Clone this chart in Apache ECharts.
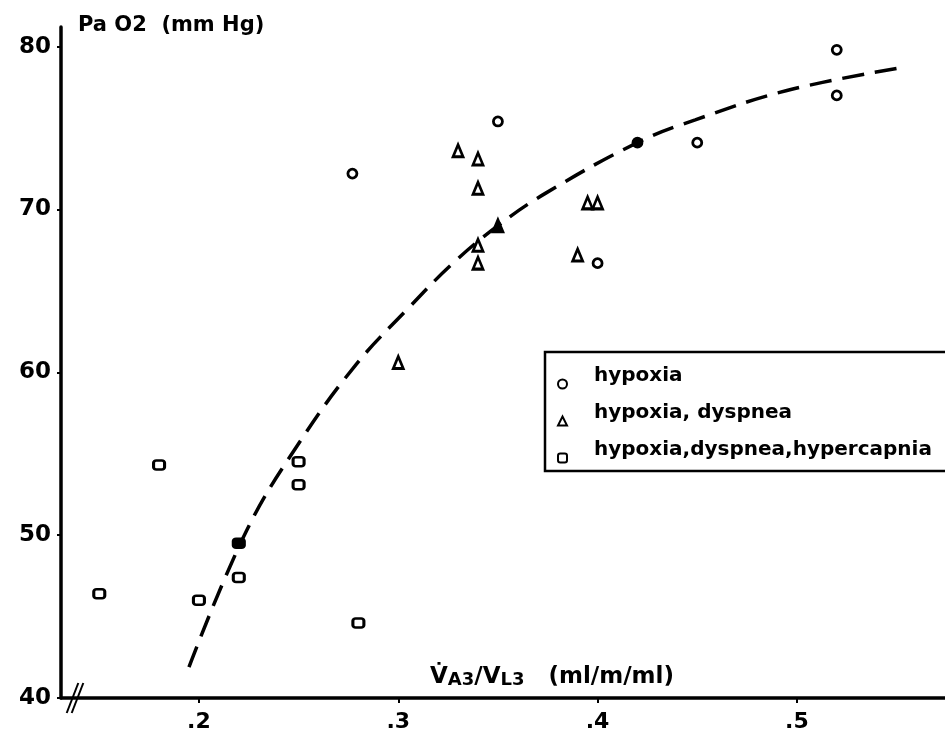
<!DOCTYPE html>
<html>
<head>
<meta charset="utf-8">
<script src="https://cdn.jsdelivr.net/npm/echarts@6/dist/echarts.min.js"></script>
<style>html,body{margin:0;padding:0;background:#fff}#c{width:945px;height:734px}</style>
</head>
<body>
<div id="c"></div>
<script>
// ---- data ----
var hypoxiaX = [0.277, 0.35, 0.40, 0.42, 0.45, 0.52, 0.52];
var hypoxiaY = [72.2, 75.4, 66.7, 74.1, 74.1, 79.8, 77.0];
var dyspneaX = [0.30, 0.33, 0.34, 0.34, 0.34, 0.34, 0.35, 0.39, 0.395, 0.40];
var dyspneaY = [60.6, 73.6, 73.1, 71.3, 67.8, 66.7, 69.0, 67.2, 70.4, 70.4];
var hyperX = [0.15, 0.18, 0.20, 0.22, 0.22, 0.25, 0.25, 0.28];
var hyperY = [46.4, 54.3, 46.0, 49.5, 47.4, 54.5, 53.1, 44.6];
var curveX = [0.195, 0.224, 0.251, 0.279, 0.304, 0.3275, 0.35, 0.374, 0.42, 0.449, 0.495, 0.550];
var curveY = [41.9, 50.3, 55.8, 60.5, 63.8, 66.7, 69.0, 71.0, 74.1, 75.5, 77.3, 78.65];
var filledHypoxia = [3];
var filledDyspnea = [6];
var filledHyper = [3];
var seriesNames = ['hypoxia', 'hypoxia, dyspnea', 'hypoxia,dyspnea,hypercapnia'];
var xTickValues = [0.2, 0.3, 0.4, 0.5];
var xTickLabels = ['.2', '.3', '.4', '.5'];
var yTickLabels = ['40', '50', '60', '70', '80'];

function pts(xs, ys, filled) {
  return xs.map(function (x, i) {
    var d = { value: [x, ys[i]] };
    if (filled.indexOf(i) >= 0) d.itemStyle = { color: '#000' };
    return d;
  });
}

var FONT = 'DejaVu Sans';
var chart = echarts.init(document.getElementById('c'), null, { renderer: 'canvas' });
chart.setOption({
  backgroundColor: '#fff',
  animation: false,
  textStyle: { fontFamily: FONT, color: '#000' },
  grid: { left: 61, right: 0, top: 27, bottom: 36, containLabel: false, outerBoundsMode: 'none' },
  xAxis: {
    type: 'value', min: 0.1308, max: 0.5743,
    splitLine: { show: false },
    axisLine: { lineStyle: { color: '#000', width: 3.5 } },
    axisTick: { show: true, length: 5, customValues: xTickValues, lineStyle: { color: '#000', width: 2 } },
    axisLabel: {
      customValues: xTickValues, margin: 13, color: '#000', fontSize: 22, fontWeight: 'bold', fontFamily: FONT,
      formatter: function (v) { var i = xTickValues.indexOf(Math.round(v * 10) / 10); return i >= 0 ? xTickLabels[i] : ''; }
    }
  },
  yAxis: {
    type: 'value', min: 40, max: 81.2, interval: 10,
    splitLine: { show: false },
    axisLine: { show: true, lineStyle: { color: '#000', width: 3.5 } },
    axisTick: { show: true, length: 4, lineStyle: { color: '#000', width: 2 } },
    axisLabel: {
      margin: 10, color: '#000', fontSize: 23, fontWeight: 'bold', fontFamily: FONT,
      showMaxLabel: false,
      formatter: function (v) { var i = (v - 40) / 10; return yTickLabels[i] || ''; }
    }
  },
  legend: {
    orient: 'vertical', left: 557, top: 366, padding: 0, itemGap: 1,
    itemWidth: 9, itemHeight: 9, selectedMode: false,
    data: seriesNames,
    formatter: function (name) { return '{t|' + name + '}'; },
    itemStyle: { opacity: 1 },
    textStyle: {
      fontFamily: FONT, fontSize: 20, fontWeight: 'bold', color: '#000',
      rich: { t: { fontFamily: FONT, fontSize: 20, fontWeight: 'bold', color: '#000', lineHeight: 22, padding: [0, 0, 16, 22] } }
    }
  },
  graphic: [
    { type: 'rect', shape: { x: 545, y: 352, width: 420, height: 119 }, style: { fill: 'none', stroke: '#000', lineWidth: 2.5 }, z: 10 },
    { type: 'text', left: 78, top: 15, style: { text: 'Pa O2  (mm Hg)', font: 'bold 21px "DejaVu Sans"', fill: '#000' } },
    { type: 'text', left: 430, top: 666, style: {
        text: '{b|V\u0307}{s|A3}{b|/V}{s|L3}{b|   (ml/m/ml)}',
        rich: { b: { font: 'bold 23px "DejaVu Sans"', fill: '#000', verticalAlign: 'bottom' },
                s: { font: 'bold 18px "DejaVu Sans"', fill: '#000', verticalAlign: 'bottom' } }
    } },
    { type: 'line', shape: { x1: 66.7, y1: 713, x2: 78.3, y2: 683 }, style: { stroke: '#000', lineWidth: 2 } },
    { type: 'line', shape: { x1: 71.7, y1: 713, x2: 83.3, y2: 683 }, style: { stroke: '#000', lineWidth: 2 } }
  ],
  series: [
    {
      name: 'curve', type: 'line', data: curveX.map(function (x, i) { return [x, curveY[i]]; }),
      showSymbol: false, smooth: 0.4, silent: true, z: 1,
      lineStyle: { color: '#000', width: 3.5, type: [22, 11], cap: 'butt' }
    },
    {
      name: seriesNames[0], type: 'scatter', symbol: 'circle', symbolSize: 9, z: 3,
      itemStyle: { color: '#fff', borderColor: '#000', borderWidth: 2.8, opacity: 1 },
      data: pts(hypoxiaX, hypoxiaY, filledHypoxia)
    },
    {
      name: seriesNames[1], type: 'scatter', symbol: 'triangle', symbolSize: [10, 12], z: 3,
      itemStyle: { color: '#fff', borderColor: '#000', borderWidth: 2.8, opacity: 1 },
      data: pts(dyspneaX, dyspneaY, filledDyspnea)
    },
    {
      name: seriesNames[2], type: 'scatter', symbol: 'roundRect', symbolSize: [11, 9], z: 3,
      itemStyle: { color: '#fff', borderColor: '#000', borderWidth: 2.8, opacity: 1 },
      data: pts(hyperX, hyperY, filledHyper)
    }
  ]
});
</script>
</body>
</html>
